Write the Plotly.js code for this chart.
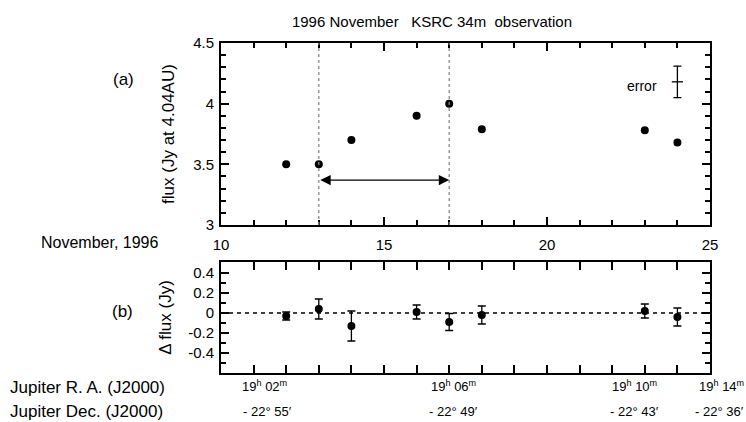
<!DOCTYPE html>
<html>
<head>
<meta charset="utf-8">
<script src="https://cdn.plot.ly/plotly-3.0.1.min.js"></script>
<style>html,body{margin:0;padding:0;background:#fff}</style>
</head>
<body>
<div id="chart" style="width:746px;height:422px"></div>
<script>
// ---- data ----
const days = [12, 13, 14, 16, 17, 18, 23, 24];             // November 1996
const flux = [3.50, 3.50, 3.70, 3.90, 4.00, 3.79, 3.78, 3.68]; // Jy at 4.04 AU
const dflux = [-0.03, 0.04, -0.13, 0.01, -0.09, -0.02, 0.02, -0.04]; // delta flux (Jy)
const dfluxErr = [0.04, 0.10, 0.15, 0.07, 0.085, 0.09, 0.07, 0.09];
const errDay = [24];        // position of the "error" legend bar
const errFlux = [4.18];
const errSize = [0.13];
const spanDays = [13, 17];  // dotted lines / arrow ends
const spanFlux = 3.37;      // arrow height
const baseline = 0;
const xTicks = [10, 15, 20, 25];
const yTicksA = [3, 3.5, 4, 4.5];
const yTicksB = [-0.4, -0.2, 0, 0.2, 0.4];
const raLabels = ['19<sup>h</sup> 02<sup>m</sup>', '19<sup>h</sup> 06<sup>m</sup>', '19<sup>h</sup> 10<sup>m</sup>', '19<sup>h</sup> 14<sup>m</sup>'];
const decLabels = ['- 22° 55′', '- 22° 49′', '- 22° 43′', '- 22° 36′'];

// ---- layout geometry (pixels) ----
const W = 746, H = 422;
const L = 221, R = 710, T = 43, B = 373;
const px = X => (X - L) / (R - L);
const py = Y => (B - Y) / (B - T);
const labelPosX = [264, 453, 634, 721];
const decPosX = [267, 453, 634, 719];

const FONT = 'Liberation Sans, Arial, Helvetica, sans-serif';
const f = (s) => ({ family: FONT, size: s, color: '#000' });

const traces = [
  { x: days, y: flux, xaxis: 'x', yaxis: 'y', type: 'scatter', mode: 'markers',
    marker: { color: '#000', size: 8 } },
  { x: errDay, y: errFlux, xaxis: 'x', yaxis: 'y', type: 'scatter', mode: 'markers',
    marker: { symbol: 'line-ew-open', size: 8, color: '#000', line: { color: '#000', width: 1.3 } },
    error_y: { type: 'data', array: errSize, visible: true, color: '#000', thickness: 1.3, width: 4 } },
  { x: days, y: dflux, xaxis: 'x', yaxis: 'y2', type: 'scatter', mode: 'markers',
    marker: { color: '#000', size: 8 },
    error_y: { type: 'data', array: dfluxErr, visible: true, color: '#000', thickness: 1.3, width: 4 } }
];

function axis(extra) {
  return Object.assign({
    showline: true, linecolor: '#000', linewidth: 2, mirror: 'allticks',
    ticks: 'inside', tickcolor: '#000', tickwidth: 2, ticklen: 8,
    showgrid: false, zeroline: false, fixedrange: true
  }, extra);
}
function minor(t0, dt) {
  return { tickmode: 'linear', tick0: t0, dtick: dt, ticks: 'inside', ticklen: 5,
           tickcolor: '#000', tickwidth: 1.6, showgrid: false };
}

const layout = {
  width: W, height: H,
  margin: { l: L, r: W - R, t: T, b: H - B },
  paper_bgcolor: '#fff', plot_bgcolor: '#fff',
  showlegend: false,
  font: f(15),
  title: { text: '1996 November\u00a0\u00a0\u00a0KSRC 34m\u00a0\u00a0observation', font: f(15),
           xref: 'paper', yref: 'paper', x: px(432), y: py(15), xanchor: 'center', yanchor: 'middle' },
  xaxis: axis({
    domain: [0, 1], anchor: 'y', range: [10, 25], tickmode: 'array', tickvals: xTicks,
    ticktext: xTicks.map(String), ticklabelstandoff: 5, minor: minor(10, 1)
  }),
  yaxis: axis({
    domain: [py(225), 1], anchor: 'x', range: [3, 4.5], tickmode: 'array', tickvals: yTicksA,
    ticktext: ['3', '3.5', '4', '4.5'], ticklabelstandoff: 2, minor: minor(3, 0.1),
    title: { text: 'flux (Jy at 4.04AU)', standoff: 14, font: f(17) }
  }),
  yaxis2: axis({
    domain: [0, py(262)], anchor: 'x', range: [-0.6, 0.51], tickmode: 'array', tickvals: yTicksB,
    ticktext: ['-0.4', '-0.2', '0', '0.2', '0.4'], ticklabelstandoff: 2, minor: minor(0, 0.1),
    title: { text: 'Δ flux (Jy)', standoff: 12, font: f(17) }
  }),
  shapes: [
    ...spanDays.map(d => ({ type: 'line', xref: 'x', yref: 'y domain', x0: d, x1: d, y0: 0, y1: 1,
      line: { color: '#888', width: 1.3, dash: 'dot' } })),
    { type: 'line', xref: 'x domain', yref: 'y2', x0: 0, x1: 1, y0: baseline, y1: baseline,
      line: { color: '#000', width: 1.3, dash: '4px,4px' } }
  ],
  annotations: [
    { xref: 'x', yref: 'y', x: spanDays[1], y: spanFlux, axref: 'x', ayref: 'y', ax: spanDays[0], ay: spanFlux,
      text: '', showarrow: true, arrowside: 'end+start', arrowhead: 2, startarrowhead: 2,
      arrowsize: 1.6, startarrowsize: 1.6, arrowwidth: 1.3, arrowcolor: '#000' },
    { xref: 'x', yref: 'y', x: 22.9, y: 4.146, xanchor: 'center', yanchor: 'middle', text: 'error',
      showarrow: false, font: f(14) },
    { xref: 'paper', yref: 'paper', x: px(123), y: py(79), xanchor: 'center', yanchor: 'middle',
      text: '(a)', showarrow: false, font: f(17) },
    { xref: 'paper', yref: 'paper', x: px(122), y: py(311), xanchor: 'center', yanchor: 'middle',
      text: '(b)', showarrow: false, font: f(17) },
    { xref: 'paper', yref: 'paper', x: px(100), y: py(242), xanchor: 'center', yanchor: 'middle',
      text: 'November, 1996', showarrow: false, font: f(16) },
    { xref: 'paper', yref: 'paper', x: px(8), y: py(387), xanchor: 'left', yanchor: 'middle',
      text: 'Jupiter R. A. (J2000)', showarrow: false, font: f(17) },
    { xref: 'paper', yref: 'paper', x: px(8), y: py(411), xanchor: 'left', yanchor: 'middle',
      text: 'Jupiter Dec. (J2000)', showarrow: false, font: f(17) },
    ...raLabels.map((t, i) => ({ xref: 'paper', yref: 'paper', x: px(labelPosX[i]), y: py(386),
      xanchor: 'center', yanchor: 'middle', text: t, showarrow: false, font: f(13) })),
    ...decLabels.map((t, i) => ({ xref: 'paper', yref: 'paper', x: px(decPosX[i]), y: py(411),
      xanchor: 'center', yanchor: 'middle', text: t, showarrow: false, font: f(13) }))
  ]
};

Plotly.newPlot('chart', traces, layout, { displayModeBar: false });
</script>
</body>
</html>
